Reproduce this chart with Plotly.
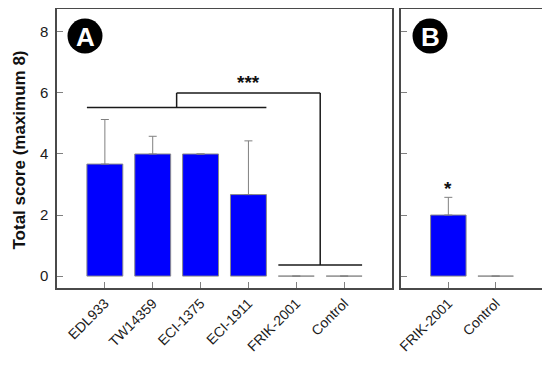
import plotly.graph_objects as go

# page body has an 8px default margin; size the figure so it fills the 550x369 window
OFF = 8
W, H = 550 - OFF, 369 - OFF

cats_a = ["EDL933", "TW14359", "ECI-1375", "ECI-1911", "FRIK-2001", "Control"]
vals_a = [3.67, 4.0, 4.0, 2.67, 0.0, 0.0]
err_a = [1.46, 0.58, 0.0, 1.76, 0.0, 0.0]

cats_b = ["FRIK-2001", "Control"]
vals_b = [2.0, 0.0]
err_b = [0.58, 0.0]

y_ticks = [0, 2, 4, 6, 8]

def px_x(p):
    return (p - OFF) / W

def px_y(p):
    return 1 - (p - OFF) / H

FONT = "Liberation Sans, Arial, sans-serif"

fig = go.Figure()

bar_style = dict(marker=dict(color="#0000FF", line=dict(color="#8a8a8a", width=1)), width=0.75)
err_style = dict(type="data", symmetric=False, color="#808080", thickness=1, width=4)

fig.add_trace(go.Bar(x=cats_a, y=vals_a, xaxis="x", yaxis="y",
                     error_y=dict(array=err_a, arrayminus=[0]*len(err_a), **err_style),
                     **bar_style))
fig.add_trace(go.Bar(x=cats_b, y=vals_b, xaxis="x2", yaxis="y2",
                     error_y=dict(array=err_b, arrayminus=[0]*len(err_b), **err_style),
                     **bar_style))

frame = dict(showline=True, mirror=True, linecolor="#4a4a4a", linewidth=1.5, automargin=False,
             ticks="inside", ticklen=6, tickcolor="#808080", showgrid=False, zeroline=False)
xfont = dict(family=FONT, size=14, color="#1a1a1a")
yfont = dict(family=FONT, size=15, color="#1a1a1a")

ydom = [px_y(288), px_y(9)]
fig.update_layout(
    width=W, height=H, margin=dict(l=0, r=0, t=0, b=0, autoexpand=False),
    paper_bgcolor="white", plot_bgcolor="white", showlegend=False,
    xaxis=dict(domain=[px_x(57), px_x(392)], range=[-1, 6], tickangle=-45,
               tickfont=xfont, **frame),
    xaxis2=dict(domain=[px_x(401), px_x(543)], range=[-1, 2], tickangle=-45, anchor="y2",
                tickfont=xfont, **frame),
    yaxis=dict(domain=ydom, range=[-0.39, 8.75], tickvals=y_ticks, tickfont=yfont,
               ticklabelstandoff=4, **frame),
    yaxis2=dict(domain=ydom, range=[-0.39, 8.75], tickvals=y_ticks, showticklabels=False,
                anchor="x2", **frame),
)

# y-axis title
fig.add_annotation(text="<b>Total score (maximum 8)</b>", xref="paper", yref="paper",
                   x=px_x(18.5), y=px_y(150), textangle=-90, showarrow=False,
                   xanchor="center", yanchor="middle",
                   font=dict(family=FONT, size=17, color="#111"))

# significance bracket
line = dict(color="#1a1a1a", width=1.5)
bracket_segments = [
    (-0.375, 5.52, 3.375, 5.52),
    (1.5, 5.52, 1.5, 6.0),
    (1.5, 6.0, 4.5, 6.0),
    (4.5, 6.0, 4.5, 0.36),
    (3.625, 0.36, 5.375, 0.36),
]
for x0, y0, x1, y1 in bracket_segments:
    fig.add_shape(type="line", xref="x", yref="y", x0=x0, y0=y0, x1=x1, y1=y1, line=line)

fig.add_annotation(text="<b>***</b>", xref="x", yref="y", x=3, y=6.35, showarrow=False,
                   font=dict(family=FONT, size=19, color="#111"))
fig.add_annotation(text="<b>*</b>", xref="x2", yref="y2", x=0, y=2.88, showarrow=False,
                   font=dict(family=FONT, size=19, color="#111"))

# panel labels
for lab, cx in [("A", 85), ("B", 430)]:
    cy = 36
    r = 17.5
    fig.add_shape(type="circle", xref="paper", yref="paper", layer="below",
                  x0=px_x(cx - r), x1=px_x(cx + r), y0=px_y(cy + r), y1=px_y(cy - r),
                  fillcolor="black", line=dict(color="black", width=0))
    fig.add_annotation(text="<b>%s</b>" % lab, xref="paper", yref="paper",
                       x=px_x(cx), y=px_y(cy + 1), showarrow=False,
                       xanchor="center", yanchor="middle",
                       font=dict(family=FONT, size=26, color="white"))

fig.write_html("out.html")
